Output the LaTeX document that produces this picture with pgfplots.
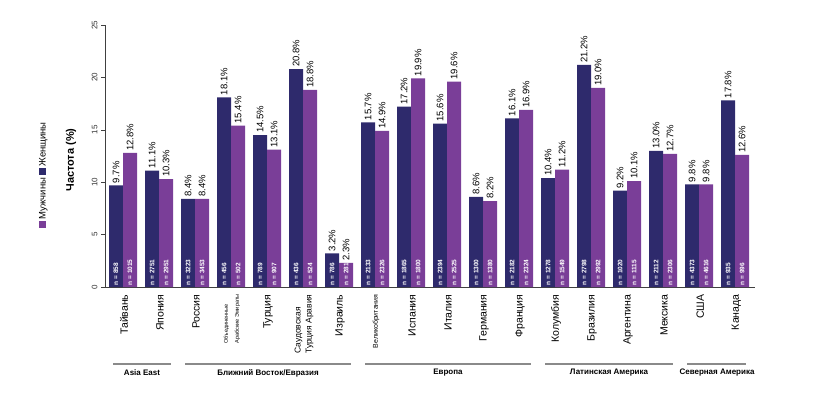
\documentclass[border=0pt]{standalone}
\usepackage{fontspec}
\setmainfont{Liberation Sans}
\usepackage{pgfplots}
\pgfplotsset{compat=1.18}
\usepackage{pgfplotstable}
\definecolor{navy}{HTML}{2E2A6C}
\definecolor{purp}{HTML}{7A3E98}
\definecolor{grp}{HTML}{8A8A8A}
\pgfplotstableread{
x f m nf nm
0 9.7 12.8 858 1015
1 11.1 10.3 2751 2951
2 8.4 8.4 3223 3453
3 18.1 15.4 456 502
4 14.5 13.1 789 907
5 20.8 18.8 436 524
6 3.2 2.3 786 281
7 15.7 14.9 2133 2326
8 17.2 19.9 1865 1800
9 15.6 19.6 2394 2525
10 8.6 8.2 1300 1380
11 16.1 16.9 2182 2324
12 10.4 11.2 1278 1549
13 21.2 19.0 2798 2992
14 9.2 10.1 1020 1115
15 13.0 12.7 2112 2306
16 9.8 9.8 4373 4616
17 17.8 12.6 935 996
}\data
\begin{document}
\begin{tikzpicture}
\useasboundingbox (0pt,0pt) rectangle (821pt,397pt);
\begin{axis}[
  at={(105pt,110pt)}, anchor=south west, scale only axis,
  width=650pt, height=262pt,
  xmin=-0.5, xmax=17.55, ymin=0, ymax=25,
  axis x line*=bottom, axis y line*=left,
  axis line style={draw=black!75, line width=0.7pt},
  clip=false,
  ytick={0,5,...,25},
  /pgf/number format/assume math mode=true,
  yticklabel style={rotate=90, anchor=south, font=\fontsize{8}{9}\selectfont, text=black!80},
  ytick style={draw=black!75, line width=0.6pt},
  tick align=outside, major tick length=4pt,
  xtick={0,...,17},
  xtick style={draw=none},
  xticklabel style={rotate=90, anchor=east, align=left, font=\fontsize{10.5}{11}\selectfont, yshift=-1pt},
  xticklabels={Тайвань, Япония, Россия,
    {\fontsize{5.5}{6.5}\selectfont Объединенные\\\fontsize{5.5}{6.5}\selectfont Арабские Эмираты},
    Турция,
    {\fontsize{8.5}{9}\selectfont Саудовская\\\fontsize{8.5}{9}\selectfont Турция Аравия},
    Израиль,
    {\fontsize{7}{8}\selectfont Великобритания},
    Испания, Италия, Германия, Франция, Колумбия, Бразилия, Аргентина, Мексика, США, Канада},
  every node near coord/.append style={rotate=90, anchor=west, font=\fontsize{9.5}{10}\selectfont, text=black, inner sep=2pt},
]
\addplot[ybar, bar width=14pt, bar shift=0pt, fill=navy, draw=none,
  nodes near coords={\pgfplotspointmeta\%}, point meta=explicit symbolic]
  table[x expr=\thisrow{x}-0.1944, y=f, meta=f] {\data};
\addplot[ybar, bar width=14pt, bar shift=0pt, fill=purp, draw=none,
  nodes near coords={\pgfplotspointmeta\%}, point meta=explicit symbolic]
  table[x expr=\thisrow{x}+0.1944, y=m, meta=m] {\data};
\addplot[ybar, bar width=14pt, bar shift=0pt, fill=none, draw=none,
  nodes near coords={n = \pgfplotspointmeta}, point meta=explicit symbolic,
  every node near coord/.append style={text=white, font=\bfseries\fontsize{6.5}{7}\selectfont, inner sep=1.5pt}]
  table[x expr=\thisrow{x}-0.1944, y expr=0, meta=nf] {\data};
\addplot[ybar, bar width=14pt, bar shift=0pt, fill=none, draw=none,
  nodes near coords={n = \pgfplotspointmeta}, point meta=explicit symbolic,
  every node near coord/.append style={text=white, font=\bfseries\fontsize{6.5}{7}\selectfont, inner sep=1.5pt}]
  table[x expr=\thisrow{x}+0.1944, y expr=0, meta=nm] {\data};
\end{axis}
% y label and legend
\node[rotate=90, font=\bfseries\fontsize{11}{12}\selectfont] at (71pt,237pt) {Частота (\%)};
\node[rotate=90, font=\fontsize{9.5}{10}\selectfont] at (43pt,222pt)
  {\textcolor{purp}{\rule{7pt}{7pt}}\,Мужчины \textcolor{navy}{\rule{7pt}{7pt}}\,Женщины};
% group brackets
\begin{scope}[draw=grp, line width=1.2pt]
\draw (113pt,33pt) -- (171pt,33pt);
\draw (185pt,33pt) -- (351pt,33pt);
\draw (365pt,33pt) -- (531pt,33pt);
\draw (545pt,33pt) -- (673pt,33pt);
\draw (687pt,33pt) -- (746pt,33pt);
\end{scope}
\begin{scope}[font=\bfseries\fontsize{8}{9}\selectfont]
\node at (142pt,24pt) {Asia East};
\node at (268pt,24pt) {Ближний Восток/Евразия};
\node at (448pt,24pt) {Европа};
\node at (609pt,24pt) {Латинская Америка};
\node at (717pt,24pt) {Северная Америка};
\end{scope}
\end{tikzpicture}
\end{document}
